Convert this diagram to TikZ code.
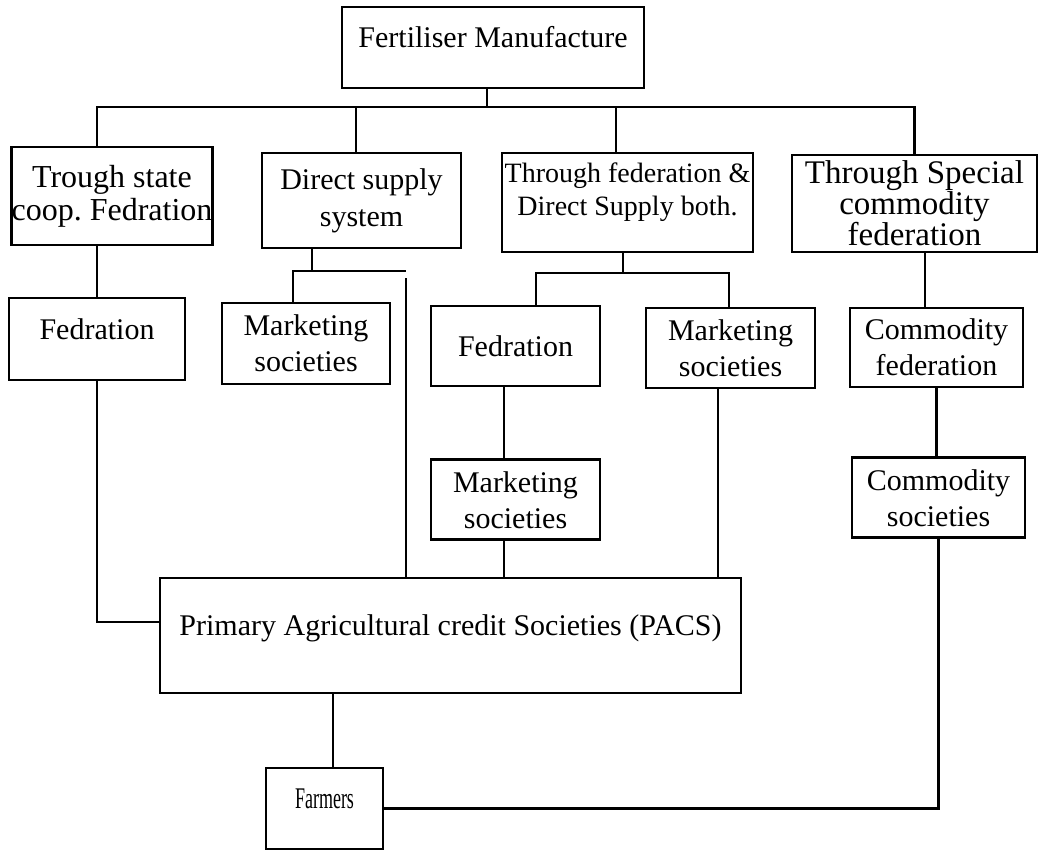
\documentclass[tikz,border=0pt]{standalone}
\usepackage{fontspec}
\setmainfont{Liberation Serif}
\usetikzlibrary{positioning}

\begin{document}
\begin{tikzpicture}[x=0.5pt, y=-0.5pt,
	box/.style={draw, rectangle, line width=1.4pt, align=center, inner sep=0pt,
		font=\fontsize{15}{18}\selectfont},
	flat/.style={text height=0pt, text depth=0pt},
	link/.style={line width=1.4pt}]
\useasboundingbox (0,0) rectangle (1051,851);

	\node [box, flat, minimum width=151pt, minimum height=40.5pt] (fert) at (493,47.5) {Fertiliser Manufacture};

	\node [box, minimum width=100pt, minimum height=49pt,
		font=\fontsize{16}{16.5}\selectfont] (trough) at (112,196) {Trough state\\ coop.\ Fedration};
	\node [box, minimum width=99.5pt, minimum height=47.5pt,
		font=\fontsize{15}{18.5}\selectfont] (direct) at (361.5,200.5) {Direct supply\\ system};
	\node [box, minimum width=125.5pt, minimum height=49.5pt,
		font=\fontsize{14}{16.5}\selectfont] (both) at (627.5,202.5)
		{\raisebox{5pt}[\height][\depth]{\begin{tabular}{@{}c@{}}Through federation \&\\ Direct Supply both.\end{tabular}}};
	\node [box, minimum width=122.5pt, minimum height=48.5pt,
		font=\fontsize{16.5}{15.5}\selectfont] (special) at (914.5,203.5) {Through Special\\ commodity\\ federation};

	\node [box, flat, minimum width=88pt, minimum height=41pt] (fed1) at (97,339) {Fedration};
	\node [box, minimum width=84pt, minimum height=40.5pt] (mkt1) at (306,343.5) {Marketing\\ societies};
	\node [box, minimum width=84.5pt, minimum height=40pt] (fed2) at (515.5,346) {Fedration};
	\node [box, minimum width=84.5pt, minimum height=40pt] (mkt2) at (730.5,348) {Marketing\\ societies};
	\node [box, minimum width=84.5pt, minimum height=40pt, below=35.5pt of fed2] (mkt3) {Marketing\\ societies};
	\node [box, minimum width=86.5pt, minimum height=39.5pt] (comf) at (936.5,347.5) {Commodity\\ federation};
	\node [box, minimum width=86.5pt, minimum height=40pt, below=34pt of comf, xshift=1pt] (csoc) {Commodity\\ societies};

	\node [box, flat, minimum width=290.5pt, minimum height=57.5pt] (pacs) at (450.5,635.5) {Primary Agricultural credit Societies (PACS)};
	\node [box, flat, minimum width=58.5pt, minimum height=40.5pt] (farmers) at (324.5,808.5) {\scalebox{0.6}[1]{Farmers}};

	% top bus
	\coordinate (bus) at (487,107);
	\coordinate (d2) at (356,107);
	\coordinate (d3) at (616,107);
	\draw [link] (bus |- fert.south) -- (bus);
	\draw [link] (fed1.north |- trough.north) -- (fed1.north |- bus) -| (special.north);
	\draw [link] (d2) -- (d2 |- direct.north);
	\draw [link] (d3) -- (d3 |- both.north);

	% first column
	\coordinate (w1) at (96,622);
	\draw [link] (fed1.north |- trough.south) -- (fed1.north);
	\draw [link] (fed1.south) |- (pacs.west |- w1);

	% direct supply
	\coordinate (j2) at (312,271);
	\coordinate (j2l) at (293,271);
	\coordinate (j2r) at (406,271);
	\coordinate (j2v) at (406,278);
	\draw [link] (j2 |- direct.south) -- (j2);
	\draw [link] (j2l |- mkt1.north) -- (j2l) -- (j2r);
	\draw [link] (j2v) -- (j2v |- pacs.north);

	% federation and direct supply
	\coordinate (j3) at (623,273);
	\coordinate (j3l) at (536,273);
	\coordinate (j3r) at (729,273);
	\coordinate (v3) at (504,420);
	\coordinate (v4) at (718,480);
	\draw [link] (j3 |- both.south) -- (j3);
	\draw [link] (j3l |- fed2.north) -- (j3l) -- (j3r) -- (j3r |- mkt2.north);
	\draw [link] (v3 |- fed2.south) -- (v3 |- mkt3.north);
	\draw [link] (v3 |- mkt3.south) -- (v3 |- pacs.north);
	\draw [link] (v4 |- mkt2.south) -- (v4 |- pacs.north);

	% commodity
	\coordinate (v5) at (925,280);
	\draw [link] (v5 |- special.south) -- (v5 |- comf.north);
	\draw [link] (comf.south) -- (comf.south |- csoc.north);
	\draw [link] (csoc.south) |- (farmers.east);

	% farmers
	\coordinate (v6) at (333,730);
	\draw [link] (v6 |- pacs.south) -- (v6 |- farmers.north);
\end{tikzpicture}
\end{document}
